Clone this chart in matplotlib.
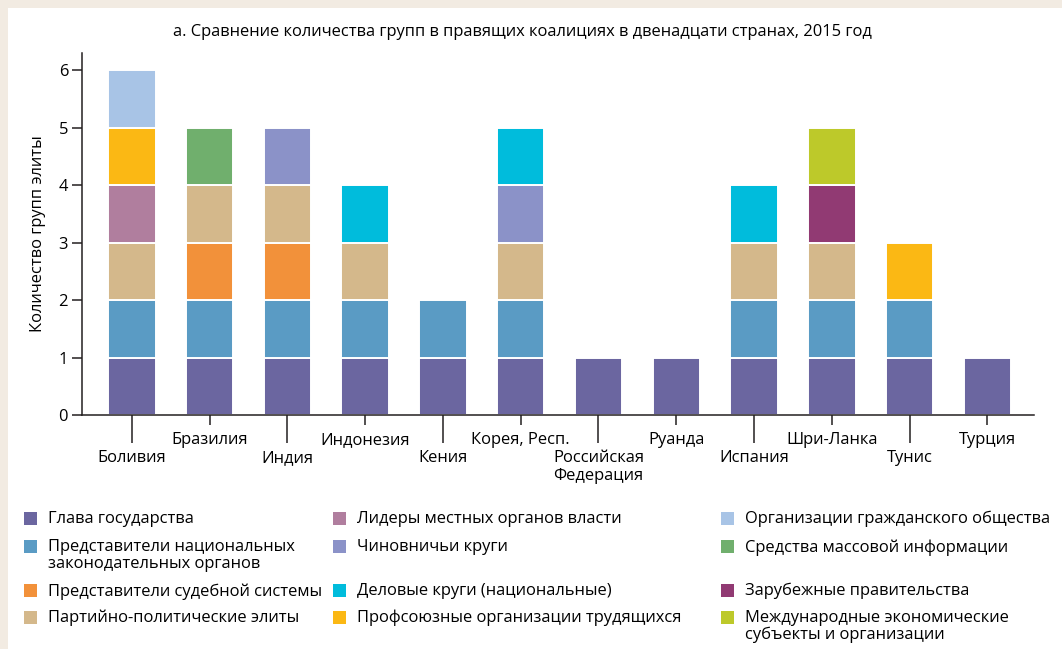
import numpy as np
import matplotlib.pyplot as plt
from matplotlib.patches import Rectangle

plt.rcParams['font.family'] = ['Open Sans', 'DejaVu Sans']

# Страны (по оси X)
countries = ["Боливия", "Бразилия", "Индия", "Индонезия", "Кения", "Корея, Респ.",
             "Российская\nФедерация", "Руанда", "Испания", "Шри-Ланка", "Тунис", "Турция"]

# Группы элиты (порядок снизу вверх в столбце)
groups = ["Глава государства",
          "Представители национальных\nзаконодательных органов",
          "Представители судебной системы",
          "Партийно-политические элиты",
          "Лидеры местных органов власти",
          "Чиновничьи круги",
          "Деловые круги (национальные)",
          "Профсоюзные организации трудящихся",
          "Организации гражданского общества",
          "Средства массовой информации",
          "Зарубежные правительства",
          "Международные экономические\nсубъекты и организации"]

colors = ["#6b66a0", "#5a9bc4", "#f2913a", "#d4b88b", "#b07e9e", "#8b92c8",
          "#00bcdc", "#fbb814", "#a8c4e6", "#70af6d", "#913a73", "#bdc92a"]

# 1 = группа входит в правящую коалицию страны
head     = [1, 1, 1, 1, 1, 1, 1, 1, 1, 1, 1, 1]
legis    = [1, 1, 1, 1, 1, 1, 0, 0, 1, 1, 1, 0]
judic    = [0, 1, 1, 0, 0, 0, 0, 0, 0, 0, 0, 0]
party    = [1, 1, 1, 1, 0, 1, 0, 0, 1, 1, 0, 0]
local    = [1, 0, 0, 0, 0, 0, 0, 0, 0, 0, 0, 0]
bureau   = [0, 0, 1, 0, 0, 1, 0, 0, 0, 0, 0, 0]
business = [0, 0, 0, 1, 0, 1, 0, 0, 1, 0, 0, 0]
unions   = [1, 0, 0, 0, 0, 0, 0, 0, 0, 0, 1, 0]
civil    = [1, 0, 0, 0, 0, 0, 0, 0, 0, 0, 0, 0]
media    = [0, 1, 0, 0, 0, 0, 0, 0, 0, 0, 0, 0]
foreign  = [0, 0, 0, 0, 0, 0, 0, 0, 0, 1, 0, 0]
intl     = [0, 0, 0, 0, 0, 0, 0, 0, 0, 1, 0, 0]

series = [head, legis, judic, party, local, bureau, business, unions, civil, media, foreign, intl]

W, H = 1062, 649
FS = 11.9
fig = plt.figure(figsize=(W / 100, H / 100), dpi=100)
fig.patch.set_facecolor("#f2ebe2")
# белая подложка
fig.add_artist(Rectangle((8 / W, 0), 1, 1 - 8 / H, transform=fig.transFigure,
                         facecolor="white", edgecolor="none", zorder=0))

ax = fig.add_axes([82 / W, 1 - 415 / H, (1034 - 82) / W, (415 - 53) / H])
ax.set_facecolor("none")

x = np.arange(len(countries))
bottom = np.zeros(len(countries))
for vals, c in zip(series, colors):
    vals = np.array(vals)
    m = vals > 0
    ax.bar(x[m], vals[m], bottom=bottom[m], width=0.61, color=c,
           edgecolor="white", linewidth=1.4)
    bottom += vals

ax.set_xlim(-0.64, 11.6)
ax.set_ylim(0, 6.3)
ax.set_yticks(range(7))
ax.set_ylabel("Количество групп элиты", fontsize=FS, labelpad=9)

for s in ["top", "right"]:
    ax.spines[s].set_visible(False)
for s in ["left", "bottom"]:
    ax.spines[s].set_color("#231f20")
    ax.spines[s].set_linewidth(1.1)

# подписи стран в шахматном порядке: длинные и короткие засечки
ax.set_xticks(x[::2], labels=countries[::2])
ax.set_xticks(x[1::2], labels=countries[1::2], minor=True)
ax.tick_params(axis="x", which="major", length=20, width=1.1, color="#231f20",
               labelsize=FS, pad=5)
ax.tick_params(axis="x", which="minor", length=7.5, width=1.1, color="#231f20",
               labelsize=FS, pad=5)
ax.tick_params(axis="y", length=7, width=1.1, color="#231f20", labelsize=FS, pad=3)

fig.text(522 / W, 1 - 32 / H,
         "а. Сравнение количества групп в правящих коалициях в двенадцати странах, 2015 год",
         ha="center", va="center", fontsize=FS)

# легенда: 3 колонки, 4 строки
col_x = [24, 333, 721]
row_y = [518, 546, 590, 617]
for i, (g, c) in enumerate(zip(groups, colors)):
    cx = col_x[i // 4]
    ry = row_y[i % 4]
    fig.add_artist(Rectangle((cx / W, 1 - (ry + 7) / H), 13 / W, 13 / H,
                             transform=fig.transFigure, facecolor=c, edgecolor="none"))
    fig.text((cx + 24) / W, 1 - (ry - 7) / H, g, ha="left", va="top",
             fontsize=FS, linespacing=1.05)

fig.savefig("out.png", dpi=100)
